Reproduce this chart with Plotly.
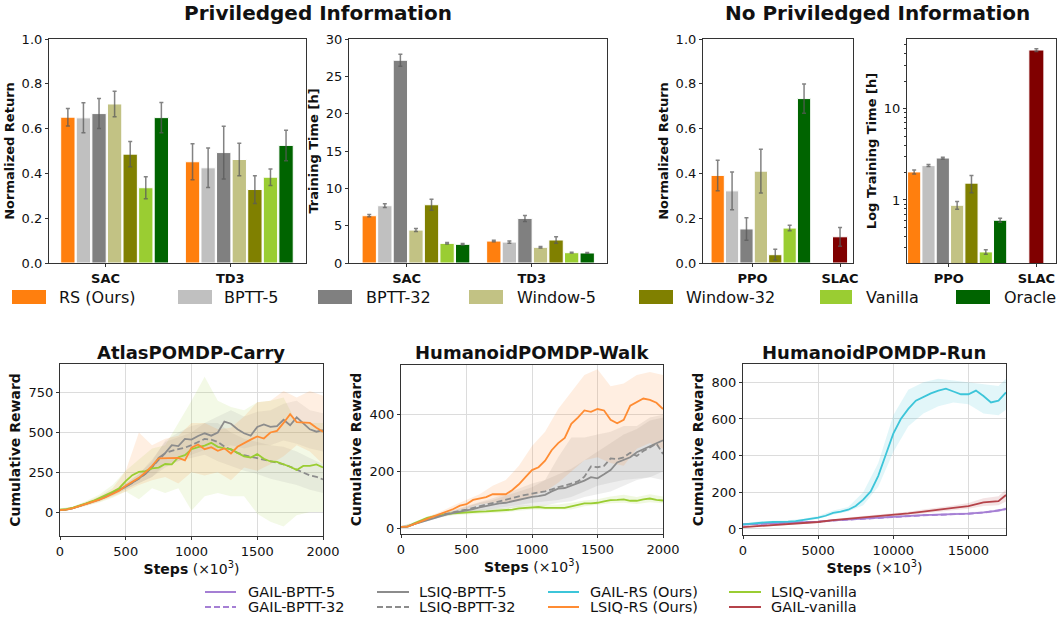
import plotly.graph_objects as go

W, H = 1060, 619

# ---------------- top bar data ----------------
methods = ["RS (Ours)", "BPTT-5", "BPTT-32", "Window-5", "Window-32", "Vanilla", "Oracle"]
bar_colors = ["#ff7f0e", "#c0c0c0", "#808080", "#c2c284", "#808000", "#9acd32", "#006400"]
slac_color = "#800000"

priv_groups = ["SAC", "TD3"]
priv_return_sac = [0.651, 0.648, 0.667, 0.710, 0.486, 0.336, 0.649]
priv_return_sac_err = [0.039, 0.067, 0.067, 0.057, 0.056, 0.049, 0.068]
priv_return_td3 = [0.452, 0.425, 0.493, 0.462, 0.328, 0.383, 0.525]
priv_return_td3_err = [0.080, 0.088, 0.118, 0.073, 0.062, 0.037, 0.068]

priv_time_sac = [6.33, 7.67, 27.15, 4.41, 7.80, 2.63, 2.50]
priv_time_sac_err = [0.15, 0.25, 0.80, 0.20, 0.75, 0.10, 0.10]
priv_time_td3 = [2.94, 2.80, 5.97, 2.10, 3.08, 1.38, 1.34]
priv_time_td3_err = [0.10, 0.15, 0.40, 0.10, 0.45, 0.05, 0.05]

nopriv_groups = ["PPO", "SLAC"]
nopriv_return_ppo = [0.391, 0.322, 0.152, 0.410, 0.037, 0.156, 0.734]
nopriv_return_ppo_err = [0.068, 0.084, 0.050, 0.098, 0.024, 0.012, 0.065]
slac_return = [0.117]
slac_return_err = [0.042]

nopriv_time_ppo = [2.03, 2.38, 2.88, 0.875, 1.53, 0.27, 0.60]
nopriv_time_ppo_err = [0.10, 0.06, 0.06, 0.085, 0.33, 0.015, 0.03]
slac_time = [43.9]
slac_time_err = [1.5]

# ---------------- bottom line data ----------------
carry_x = list(range(0, 2001, 50))
carry_lsiq_rs = [12, 15, 25, 38, 50, 62, 78, 95, 115, 135, 165, 190, 215, 250, 290, 338, 340, 338, 340, 325,
                 405, 425, 395, 408, 385, 400, 368, 410, 435, 455, 475, 462, 500, 510, 560, 615, 565, 562, 560, 530, 505]
carry_lsiq_bptt5 = [12, 15, 25, 38, 52, 65, 80, 98, 118, 138, 160, 185, 210, 240, 280, 340, 370, 420, 415, 460,
                    455, 478, 495, 480, 500, 568, 555, 520, 495, 480, 535, 550, 535, 540, 580, 545, 595, 560, 520, 505, 515]
carry_lsiq_bptt32 = [12, 15, 25, 38, 52, 65, 80, 98, 118, 138, 160, 185, 210, 242, 285, 330, 370, 385, 395, 405,
                     420, 440, 460, 455, 440, 412, 390, 372, 358, 348, 340, 330, 318, 308, 300, 285, 265, 248, 230, 222, 205]
carry_lsiq_vanilla = [15, 18, 28, 40, 55, 70, 88, 108, 128, 150, 195, 232, 252, 258, 275, 280, 302, 300, 345, 358,
                      395, 408, 418, 435, 410, 400, 395, 372, 350, 343, 365, 335, 318, 315, 300, 285, 265, 290, 290, 300, 280]

carry_band_x = list(range(0, 2001, 100))
carry_rs_lo = [5, 18, 40, 65, 95, 130, 170, 200, 220, 180, 250, 230, 250, 200, 280, 260, 300, 350, 420, 380, 300]
carry_rs_hi = [20, 35, 65, 100, 150, 260, 500, 420, 460, 480, 560, 560, 520, 530, 600, 690, 700, 760, 720, 760, 730]
carry_bptt5_lo = [5, 20, 45, 70, 105, 140, 180, 220, 280, 320, 360, 390, 400, 420, 400, 420, 420, 450, 430, 400, 380]
carry_bptt5_hi = [20, 32, 60, 90, 130, 180, 240, 320, 450, 500, 540, 560, 600, 640, 600, 630, 640, 680, 700, 640, 620]
carry_bptt32_lo = [5, 20, 45, 70, 105, 140, 180, 220, 300, 320, 340, 360, 320, 290, 260, 240, 210, 190, 170, 140, 120]
carry_bptt32_hi = [20, 32, 60, 90, 130, 180, 240, 330, 440, 470, 500, 560, 560, 500, 460, 440, 420, 410, 380, 340, 300]
carry_van_lo = [5, 20, 40, 60, 90, 130, 80, 150, 120, 150, 10, 100, 120, 100, 100, -10, -60, -90, -20, 0, 0]
carry_van_hi = [25, 35, 70, 110, 170, 260, 330, 400, 420, 560, 700, 850, 700, 660, 640, 690, 700, 720, 560, 560, 560]

walk_x = list(range(0, 2001, 50))
walk_lsiq_rs = [5, 6, 15, 25, 33, 42, 50, 58, 68, 80, 85, 100, 105, 110, 120, 120, 120, 135, 155, 180,
                205, 215, 238, 275, 300, 318, 368, 390, 415, 410, 420, 415, 382, 370, 382, 432, 445, 457, 452, 442, 420]
walk_lsiq_bptt5 = [5, 6, 15, 22, 30, 37, 43, 49, 54, 58, 62, 68, 74, 79, 84, 88, 90, 95, 101, 107,
                   111, 113, 118, 130, 140, 142, 150, 160, 168, 180, 176, 190, 205, 232, 240, 250, 268, 278, 290, 300, 310]
walk_lsiq_bptt32 = [5, 6, 15, 24, 32, 40, 46, 52, 57, 62, 66, 72, 78, 84, 88, 95, 100, 106, 112, 118,
                    122, 125, 130, 137, 145, 150, 157, 165, 182, 218, 215, 220, 246, 244, 250, 266, 255, 272, 285, 298, 262]
walk_lsiq_vanilla = [5, 6, 18, 28, 37, 42, 47, 50, 53, 55, 56, 58, 59, 60, 61, 62, 63, 66, 70, 72,
                     73, 75, 72, 72, 74, 72, 77, 82, 88, 88, 90, 95, 99, 100, 102, 97, 97, 102, 105, 100, 98]

walk_band_x = list(range(0, 2001, 100))
walk_rs_lo = [2, 12, 28, 45, 60, 70, 85, 90, 90, 95, 115, 130, 160, 200, 240, 250, 230, 220, 280, 300, 280]
walk_rs_hi = [8, 18, 40, 58, 80, 100, 120, 150, 170, 220, 290, 340, 420, 480, 540, 560, 500, 510, 540, 550, 540]
walk_bptt5_lo = [2, 12, 25, 38, 48, 55, 60, 65, 70, 75, 80, 80, 90, 95, 110, 120, 130, 150, 170, 180, 200]
walk_bptt5_hi = [8, 18, 35, 50, 62, 75, 90, 100, 115, 130, 145, 170, 250, 320, 320, 330, 340, 360, 360, 390, 400]
walk_bptt32_lo = [2, 12, 26, 40, 50, 58, 64, 70, 76, 82, 90, 95, 100, 110, 130, 150, 160, 170, 175, 180, 170]
walk_bptt32_hi = [8, 18, 36, 52, 65, 78, 92, 106, 122, 140, 158, 170, 190, 210, 240, 270, 300, 330, 350, 380, 390]
walk_van_lo = [2, 12, 30, 40, 46, 50, 52, 54, 56, 62, 66, 64, 66, 66, 78, 82, 88, 90, 86, 92, 88]
walk_van_hi = [8, 22, 42, 54, 60, 62, 66, 70, 72, 80, 82, 82, 84, 90, 98, 102, 112, 118, 110, 120, 112]

run_x = list(range(0, 17501, 500))
run_gail_rs = [25, 30, 34, 36, 38, 38, 40, 43, 48, 55, 62, 72, 88, 95, 105, 125, 160, 205, 290, 405,
               520, 600, 655, 700, 720, 740, 755, 765, 750, 735, 735, 755, 725, 690, 700, 745]
run_x_coarse = list(range(0, 17001, 1000)) + [17500]
run_gail_vanilla = [10, 15, 20, 26, 32, 38, 48, 55, 62, 70, 76, 85, 95, 103, 115, 125, 145, 152, 185]
run_gail_bptt5 = [25, 28, 30, 32, 35, 40, 47, 52, 58, 62, 66, 70, 75, 78, 80, 84, 90, 100, 110]
run_gail_bptt32 = [24, 27, 29, 31, 34, 39, 46, 51, 57, 61, 65, 69, 74, 77, 79, 83, 89, 99, 108]

run_rs_lo = [20, 30, 33, 35, 42, 55, 78, 95, 130, 230, 420, 560, 630, 670, 690, 680, 630, 620, 650]
run_rs_hi = [30, 40, 45, 47, 55, 70, 100, 120, 200, 360, 620, 760, 800, 820, 810, 800, 790, 780, 820]
run_van_lo = [5, 10, 15, 20, 26, 32, 40, 47, 54, 62, 68, 76, 84, 92, 102, 110, 125, 130, 150]
run_van_hi = [15, 20, 26, 32, 38, 45, 56, 63, 70, 78, 84, 94, 106, 116, 128, 142, 168, 178, 215]
run_bptt_lo = [20, 24, 26, 28, 31, 35, 42, 47, 53, 57, 61, 65, 70, 72, 74, 78, 83, 92, 100]
run_bptt_hi = [30, 32, 34, 36, 39, 45, 52, 57, 63, 67, 71, 75, 80, 84, 86, 90, 97, 108, 120]

col_gail_bptt = "#a57fd4"
col_lsiq_bptt = "#8c8c8c"
col_gail_rs = "#3cc5d9"
col_lsiq_van = "#9acd32"
col_lsiq_rs = "#ff8c33"
col_gail_van = "#b5434a"
DASH = "6px,3px"


def rgba(hexc, a):
    h = hexc.lstrip("#")
    r, g, b = int(h[0:2], 16), int(h[2:4], 16), int(h[4:6], 16)
    return f"rgba({r},{g},{b},{a})"


def dom_x(a, b):
    return [a / W, b / W]


def dom_y(top, bottom):
    return [1 - bottom / H, 1 - top / H]


fig = go.Figure()

ERR = dict(color="rgba(90,90,90,0.75)", thickness=1.5, width=2)
BW = 0.92

# plot 1: privileged normalized return
for i, m in enumerate(methods):
    fig.add_trace(go.Bar(
        x=[0 + i, 8 + i], y=[priv_return_sac[i], priv_return_td3[i]],
        error_y=dict(type="data", array=[priv_return_sac_err[i], priv_return_td3_err[i]], **ERR),
        marker=dict(color=bar_colors[i], line=dict(color="white", width=1)), width=BW,
        name=m, showlegend=False, xaxis="x", yaxis="y"))
# plot 2: privileged training time
for i, m in enumerate(methods):
    fig.add_trace(go.Bar(
        x=[0 + i, 8 + i], y=[priv_time_sac[i], priv_time_td3[i]],
        error_y=dict(type="data", array=[priv_time_sac_err[i], priv_time_td3_err[i]], **ERR),
        marker=dict(color=bar_colors[i], line=dict(color="white", width=1)), width=BW,
        name=m, showlegend=False, xaxis="x2", yaxis="y2"))
# plot 3: no privileged return
for i, m in enumerate(methods):
    fig.add_trace(go.Bar(
        x=[i], y=[nopriv_return_ppo[i]],
        error_y=dict(type="data", array=[nopriv_return_ppo_err[i]], **ERR),
        marker=dict(color=bar_colors[i], line=dict(color="white", width=1)), width=BW,
        name=m, showlegend=False, xaxis="x3", yaxis="y3"))
fig.add_trace(go.Bar(
    x=[8.5], y=slac_return, error_y=dict(type="data", array=slac_return_err, **ERR),
    marker=dict(color=slac_color, line=dict(color="white", width=1)), width=1.05,
    name="SLAC", showlegend=False, xaxis="x3", yaxis="y3"))
# plot 4: no privileged log time
for i, m in enumerate(methods):
    fig.add_trace(go.Bar(
        x=[i], y=[nopriv_time_ppo[i]],
        error_y=dict(type="data", array=[nopriv_time_ppo_err[i]], **ERR),
        marker=dict(color=bar_colors[i], line=dict(color="white", width=1)), width=BW,
        name=m, showlegend=False, xaxis="x4", yaxis="y4"))
fig.add_trace(go.Bar(
    x=[8.53], y=slac_time, error_y=dict(type="data", array=slac_time_err, **ERR),
    marker=dict(color=slac_color, line=dict(color="white", width=1)), width=1.05,
    name="SLAC", showlegend=False, xaxis="x4", yaxis="y4"))


def band(x, lo, hi, color, alpha, xa, ya):
    fig.add_trace(go.Scatter(
        x=list(x) + list(x)[::-1], y=list(hi) + list(lo)[::-1], fill="toself",
        fillcolor=rgba(color, alpha), line=dict(width=0), mode="lines",
        hoverinfo="skip", showlegend=False, xaxis=xa, yaxis=ya))


def line(x, y, color, xa, ya, dash="solid", name=""):
    fig.add_trace(go.Scatter(
        x=x, y=y, mode="lines", line=dict(color=color, width=1.8, dash=dash),
        name=name, showlegend=False, xaxis=xa, yaxis=ya))


# plot 5
band(carry_band_x, carry_van_lo, carry_van_hi, col_lsiq_van, 0.12, "x5", "y5")
band(carry_band_x, carry_bptt5_lo, carry_bptt5_hi, col_lsiq_bptt, 0.12, "x5", "y5")
band(carry_band_x, carry_bptt32_lo, carry_bptt32_hi, col_lsiq_bptt, 0.12, "x5", "y5")
band(carry_band_x, carry_rs_lo, carry_rs_hi, col_lsiq_rs, 0.14, "x5", "y5")
line(carry_x, carry_lsiq_bptt5, col_lsiq_bptt, "x5", "y5", name="LSIQ-BPTT-5")
line(carry_x, carry_lsiq_bptt32, col_lsiq_bptt, "x5", "y5", dash=DASH, name="LSIQ-BPTT-32")
line(carry_x, carry_lsiq_vanilla, col_lsiq_van, "x5", "y5", name="LSIQ-vanilla")
line(carry_x, carry_lsiq_rs, col_lsiq_rs, "x5", "y5", name="LSIQ-RS (Ours)")

# plot 6
band(walk_band_x, walk_van_lo, walk_van_hi, col_lsiq_van, 0.15, "x6", "y6")
band(walk_band_x, walk_bptt5_lo, walk_bptt5_hi, col_lsiq_bptt, 0.15, "x6", "y6")
band(walk_band_x, walk_bptt32_lo, walk_bptt32_hi, col_lsiq_bptt, 0.15, "x6", "y6")
band(walk_band_x, walk_rs_lo, walk_rs_hi, col_lsiq_rs, 0.15, "x6", "y6")
line(walk_x, walk_lsiq_vanilla, col_lsiq_van, "x6", "y6", name="LSIQ-vanilla")
line(walk_x, walk_lsiq_bptt5, col_lsiq_bptt, "x6", "y6", name="LSIQ-BPTT-5")
line(walk_x, walk_lsiq_bptt32, col_lsiq_bptt, "x6", "y6", dash=DASH, name="LSIQ-BPTT-32")
line(walk_x, walk_lsiq_rs, col_lsiq_rs, "x6", "y6", name="LSIQ-RS (Ours)")

# plot 7
band(run_x_coarse, run_rs_lo, run_rs_hi, col_gail_rs, 0.15, "x7", "y7")
band(run_x_coarse, run_van_lo, run_van_hi, col_gail_van, 0.15, "x7", "y7")
band(run_x_coarse, run_bptt_lo, run_bptt_hi, col_gail_bptt, 0.15, "x7", "y7")
line(run_x_coarse, run_gail_bptt5, col_gail_bptt, "x7", "y7", name="GAIL-BPTT-5")
line(run_x_coarse, run_gail_bptt32, col_gail_bptt, "x7", "y7", dash=DASH, name="GAIL-BPTT-32")
line(run_x_coarse, run_gail_vanilla, col_gail_van, "x7", "y7", name="GAIL-vanilla")
line(run_x, run_gail_rs, col_gail_rs, "x7", "y7", name="GAIL-RS (Ours)")

FONT = "DejaVu Sans"
AX_LINE = "#333333"
TICKF = dict(family=FONT, size=13, color="#111111")
TITLEF = dict(family=FONT, size=13, color="#111111", weight="bold")


def xax(dom, anchor, rng, tickvals, ticktext, grid=False, title=None, bold_ticks=False):
    d = dict(domain=dom, anchor=anchor, range=rng, tickvals=tickvals, ticktext=ticktext,
             side="bottom", showline=True, mirror=True, linecolor=AX_LINE, linewidth=1.2,
             ticks="outside", ticklen=3, tickcolor=AX_LINE, zeroline=False,
             showgrid=grid, gridcolor="#dcdcdc", gridwidth=1,
             tickfont=dict(TICKF, weight="bold") if bold_ticks else TICKF)
    if title:
        d["title"] = dict(text=title, font=dict(family=FONT, size=14, color="#111"), standoff=2)
    return d


def yax(dom, anchor, rng, tickvals, ticktext, title, grid=False, typ="linear", tsize=13):
    return dict(domain=dom, anchor=anchor, range=rng, tickvals=tickvals, ticktext=ticktext, type=typ,
                side="left", showline=True, mirror=True, linecolor=AX_LINE, linewidth=1.2,
                ticks="outside", ticklen=3, tickcolor=AX_LINE, zeroline=False,
                showgrid=grid, gridcolor="#dcdcdc", gridwidth=1, tickfont=TICKF,
                title=dict(text=title, font=dict(TITLEF, size=tsize), standoff=4))


ytop = dom_y(39, 263)
steps_title = "<b>Steps</b> (×10<sup>3</sup>)"
minor_log = [0.3, 0.4, 0.5, 0.6, 0.7, 0.8, 0.9, 2, 3, 4, 5, 6, 7, 8, 9, 20, 30, 40, 50]
fig.update_layout(
    template="none",
    xaxis=xax(dom_x(49, 306), "y", [-1.21, 15.28], [2.42, 10.42], priv_groups, bold_ticks=True),
    yaxis=yax(ytop, "x", [0, 1.0], [0, 0.2, 0.4, 0.6, 0.8, 1.0], ["0.0", "0.2", "0.4", "0.6", "0.8", "1.0"],
              "Normalized Return"),
    xaxis2=xax(dom_x(349, 607), "y2", [-1.30, 15.27], [2.40, 10.44], priv_groups, bold_ticks=True),
    yaxis2=yax(ytop, "x2", [0, 30], [0, 5, 10, 15, 20, 25, 30], ["0", "5", "10", "15", "20", "25", "30"],
               "Training Time [h]"),
    xaxis3=xax(dom_x(703, 853), "y3", [-1.02, 9.40], [2.42, 8.5], nopriv_groups, bold_ticks=True),
    yaxis3=yax(ytop, "x3", [0, 1.0], [0, 0.2, 0.4, 0.6, 0.8, 1.0], ["0.0", "0.2", "0.4", "0.6", "0.8", "1.0"],
               "Normalized Return"),
    xaxis4=xax(dom_x(907, 1056), "y4", [-0.5, 9.9], [2.42, 8.53], nopriv_groups, bold_ticks=True),
    yaxis4=yax(ytop, "x4", [-0.69, 1.763], [1, 10], ["1", "10"], "Log Training Time [h]", typ="log"),
    xaxis5=xax(dom_x(60, 323), "y5", [0, 2000], [0, 500, 1000, 1500, 2000], ["0", "500", "1000", "1500", "2000"],
               grid=True, title=steps_title),
    yaxis5=yax(dom_y(364, 536), "x5", [-150, 930], [0, 250, 500, 750], ["0", "250", "500", "750"],
               "Cumulative Reward", grid=True, tsize=14),
    xaxis6=xax(dom_x(401, 663), "y6", [0, 2000], [0, 500, 1000, 1500, 2000], ["0", "500", "1000", "1500", "2000"],
               grid=True, title=steps_title),
    yaxis6=yax(dom_y(365, 534), "x6", [-20, 575], [0, 200, 400], ["0", "200", "400"],
               "Cumulative Reward", grid=True, tsize=14),
    xaxis7=xax(dom_x(743, 1006), "y7", [0, 17500], [0, 5000, 10000, 15000], ["0", "5000", "10000", "15000"],
               grid=True, title=steps_title),
    yaxis7=yax(dom_y(364, 535), "x7", [-33, 900], [0, 200, 400, 600, 800], ["0", "200", "400", "600", "800"],
               "Cumulative Reward", grid=True, tsize=14),
)
fig.update_layout(yaxis4=dict(minor=dict(ticks="outside", ticklen=2, tickcolor=AX_LINE, tickvals=minor_log,
                                         showgrid=False)))

annotations = []
shapes = []
# super titles
for t, cx in [("Priviledged Information", 318), ("No Priviledged Information", 877)]:
    annotations.append(dict(text=f"<b>{t}</b>", x=cx / W, y=1 - 13 / H, xref="paper", yref="paper",
                            xanchor="center", yanchor="middle", showarrow=False,
                            font=dict(family=FONT, size=20, color="#111")))
# subplot titles
for t, cx in [("AtlasPOMDP-Carry", 191), ("HumanoidPOMDP-Walk", 532), ("HumanoidPOMDP-Run", 874)]:
    annotations.append(dict(text=f"<b>{t}</b>", x=cx / W, y=1 - 352 / H, xref="paper", yref="paper",
                            xanchor="center", yanchor="middle", showarrow=False,
                            font=dict(family=FONT, size=18, color="#111")))

# top legend (patches)
patch_x = [(12, 46), (178, 212), (318, 352), (469, 503), (639, 673), (820, 852), (956, 990)]
text_x = [57, 222, 364, 515, 684, 864, 1002]
for i, m in enumerate(methods):
    x0, x1 = patch_x[i]
    shapes.append(dict(type="rect", xref="paper", yref="paper", x0=x0 / W, x1=x1 / W,
                       y0=1 - 304 / H, y1=1 - 290 / H, fillcolor=bar_colors[i], line=dict(width=0)))
    annotations.append(dict(text=m, x=text_x[i] / W, y=1 - 297 / H, xref="paper", yref="paper",
                            xanchor="left", yanchor="middle", showarrow=False,
                            font=dict(family=FONT, size=16, color="#111")))

# bottom legend (lines)
leg_items = [
    ("GAIL-BPTT-5", col_gail_bptt, "solid"), ("LSIQ-BPTT-5", col_lsiq_bptt, "solid"),
    ("GAIL-RS (Ours)", col_gail_rs, "solid"), ("LSIQ-vanilla", col_lsiq_van, "solid"),
    ("GAIL-BPTT-32", col_gail_bptt, DASH), ("LSIQ-BPTT-32", col_lsiq_bptt, DASH),
    ("LSIQ-RS (Ours)", col_lsiq_rs, "solid"), ("GAIL-vanilla", col_gail_van, "solid"),
]
line_cols = [(205, 236, 246), (377, 409, 417), (548, 579, 588), (729, 761, 769)]
rows_y = [592, 607]
for k, (name, c, dash) in enumerate(leg_items):
    r, ccol = divmod(k, 4)
    x0, x1, tx = line_cols[ccol]
    yy = 1 - rows_y[r] / H
    shapes.append(dict(type="line", xref="paper", yref="paper", x0=x0 / W, x1=x1 / W, y0=yy, y1=yy,
                       line=dict(color=c, width=2, dash=dash)))
    annotations.append(dict(text=name, x=tx / W, y=yy, xref="paper", yref="paper",
                            xanchor="left", yanchor="middle",
                            showarrow=False, font=dict(family=FONT, size=14.5, color="#111")))

fig.update_layout(
    width=W, height=H, margin=dict(l=0, r=0, t=0, b=0, autoexpand=False),
    paper_bgcolor="white", plot_bgcolor="white",
    barmode="overlay", showlegend=False,
    annotations=annotations, shapes=shapes,
    font=dict(family=FONT, color="#111"),
)

fig.write_html("out.html", config={"displayModeBar": False},
               post_script="document.body.style.margin='0px';document.body.style.overflow='hidden';")
